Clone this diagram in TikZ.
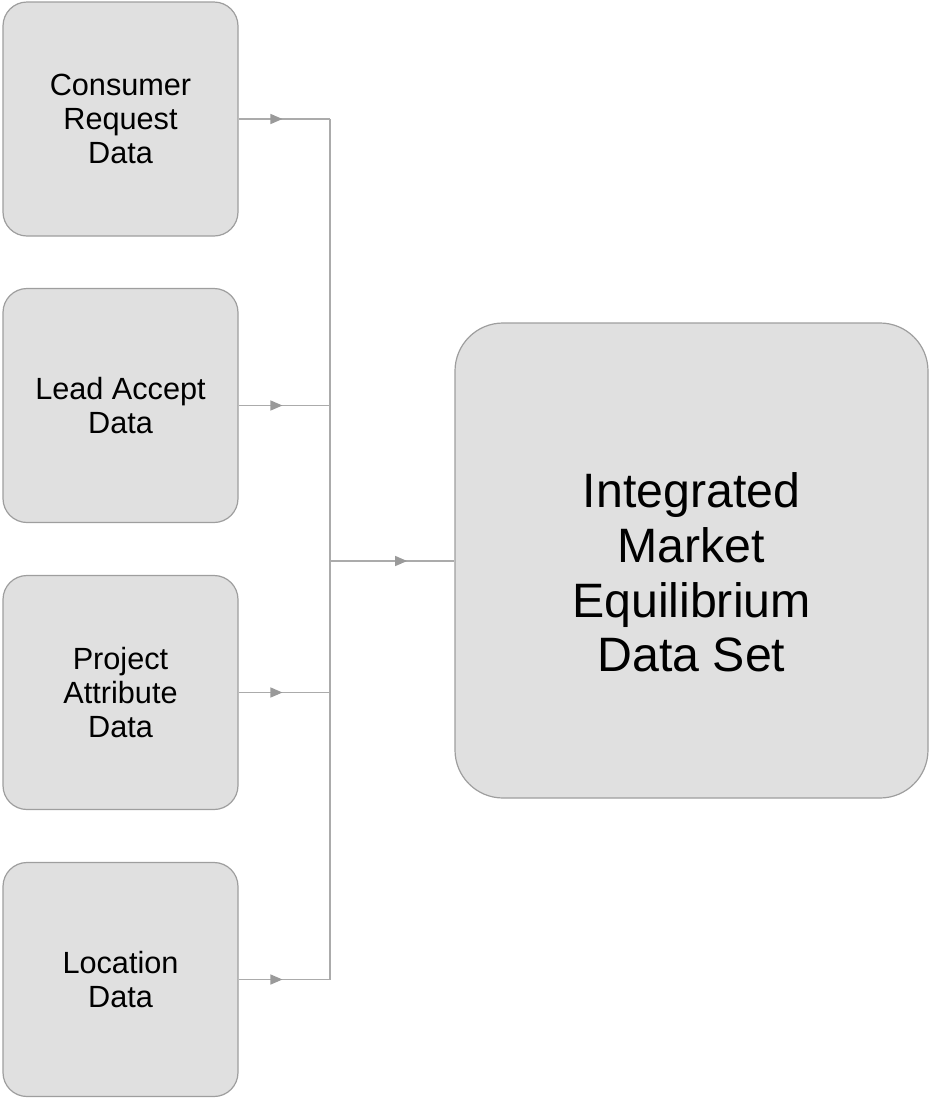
\documentclass[tikz,border=0pt]{standalone}
\usepackage{fontspec}
\setmainfont{Liberation Sans}
\usetikzlibrary{arrows.meta,decorations.markings}
\definecolor{boxfill}{HTML}{E0E0E0}
\definecolor{boxline}{HTML}{9E9E9E}
\definecolor{conncol}{HTML}{ABABAB}
\definecolor{tipcol}{HTML}{9A9A9A}
\begin{document}
\begin{tikzpicture}[x=0.75pt,y=-0.75pt,
  srcbox/.style={draw=boxline,fill=boxfill,line width=0.9pt,rounded corners=18pt,
    minimum width=235*0.75pt,minimum height=234*0.75pt,align=center,
    font=\fontsize{23}{25.5}\selectfont,inner sep=0pt},
  bigbox/.style={draw=boxline,fill=boxfill,line width=0.9pt,rounded corners=36pt,
    minimum width=473*0.75pt,minimum height=475*0.75pt,inner sep=0pt},
  bigtext/.style={align=center,font=\fontsize{36.2}{41}\selectfont,inner sep=0pt},
  conn/.style={draw=conncol,line width=1pt},
  midarrow/.style={postaction={decorate},decoration={markings,
    mark=at position #1 with {\arrow[tipcol]{Triangle[length=9pt,width=7.5pt]}}}}
]
\useasboundingbox (0,0) rectangle (930,1100);
\node[srcbox] (b1) at (120.5,119) {Consumer\\Request\\Data};
\node[srcbox] (b2) at (120.5,405.5) {Lead Accept\\Data};
\node[srcbox] (b3) at (120.5,692.5) {Project\\Attribute\\Data};
\node[srcbox] (b4) at (120.5,979.5) {Location\\Data};
\node[bigbox] (big) at (691.5,560.5) {};
\node[bigtext] (bigt) at ([yshift=-9pt]big.center) {Integrated\\Market\\Equilibrium\\Data Set};
\coordinate (j) at (330,561);
\foreach \b in {b1,b2,b3,b4}{
  \draw[conn,midarrow=0.48] (\b.east) -- (\b.east -| j);
}
\draw[conn] (b1.east -| j) -- (b4.east -| j);
\draw[conn,midarrow=0.62] (j) -- (j -| big.west);
\end{tikzpicture}
\end{document}
